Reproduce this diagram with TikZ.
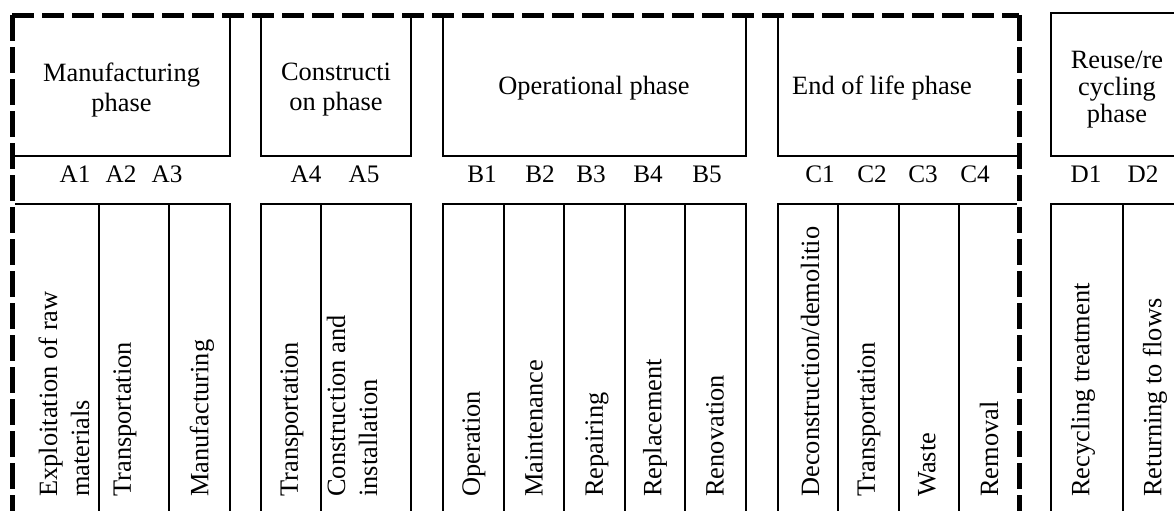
\documentclass[tikz,border=0pt]{standalone}
\usepackage{fontspec}
\setmainfont{Liberation Serif}
\begin{document}
\begin{tikzpicture}[x=0.5pt,y=-0.5pt,
    box/.style={draw,line width=1pt},
    phasetext/.style={align=center,inner sep=0pt,font=\fontsize{13.2}{15}\selectfont},
    codetext/.style={inner sep=0pt,font=\fontsize{12.6}{15}\selectfont},
    stagetext/.style={rotate=90,anchor=west,align=left,inner sep=0pt,font=\fontsize{13.2}{16}\selectfont},
    border/.style={line width=2.5pt,dash pattern=on 11pt off 4pt},
    sideborder/.style={line width=2.5pt,dash pattern=on 13pt off 3pt}]
    \useasboundingbox (0,0) rectangle (1174,510);
    \clip (0,0) rectangle (1174,510);

    % phase boxes
    \draw[box] (12,15) rectangle (230,156);
    \draw[box] (261,15) rectangle (411,156);
    \draw[box] (443,15) rectangle (746,156);
    \draw[box] (778,15) rectangle (1019,156);
    \draw[box] (1051,13) rectangle (1200,156);
    \node[phasetext] (manu) at (121.5,90) {Manufacturing\\phase};
    \node[phasetext] (cons) at (336,90) {Constructi\\on phase};
    \node[phasetext] (oper) at (594,88) {Operational phase};
    \node[phasetext] (eol) at (882,88) {End of life phase};
    \node[phasetext,font=\fontsize{13.2}{13.5}\selectfont] (reuse) at (1117,90) {Reuse/re\\cycling\\phase};

    % module codes
    \foreach \x/\t in {75/A1,121/A2,167/A3,306/A4,364/A5,
                       482/B1,540/B2,591/B3,648/B4,707/B5,
                       820/C1,872/C2,923/C3,975/C4,1086/D1,1143/D2}
        \node[codetext] (code-\t) at (\x,174) {\t};

    % stage columns
    \foreach \a/\b in {12/99,99/169,169/230,261/321,321/411,
                       443/504,504/564,564/625,625/685,685/746,
                       778/838,838/899,899/959,959/1019,1051/1123,1123/1200}
        \draw[box] (\a,204) rectangle (\b,530);

    \node[stagetext] (s1) at (64,497) {Exploitation of raw\\materials};
    \node[stagetext] (s2) at (125,497) {Transportation};
    \node[stagetext] (s3) at (202,497) {Manufacturing};
    \node[stagetext] (s4) at (292,497) {Transportation};
    \node[stagetext] (s5) at (352,497) {Construction and\\installation};
    \node[stagetext] (s6) at (474,497) {Operation};
    \node[stagetext] (s7) at (534,497) {Maintenance};
    \node[stagetext] (s8) at (597,497) {Repairing};
    \node[stagetext] (s9) at (655,497) {Replacement};
    \node[stagetext] (s10) at (715,497) {Renovation};
    \node[stagetext] (s11) at (810,497) {Deconstruction/demolitio};
    \node[stagetext] (s12) at (869,497) {Transportation};
    \node[stagetext] (s13) at (927,497) {Waste};
    \node[stagetext] (s14) at (989,497) {Removal};
    \node[stagetext] (s15) at (1083,497) {Recycling treatment};
    \node[stagetext] (s16) at (1155,497) {Returning to flows};

    % system boundary
    \draw[white,line width=2.5pt] (12,530) -- (12,15) -- (1019,15) -- (1019,530);
    \draw[border] (12,15) -- (1019,15);
    \draw[sideborder] (12,15) -- (12,530);
    \draw[sideborder] (1019,15) -- (1019,530);
\end{tikzpicture}
\end{document}
